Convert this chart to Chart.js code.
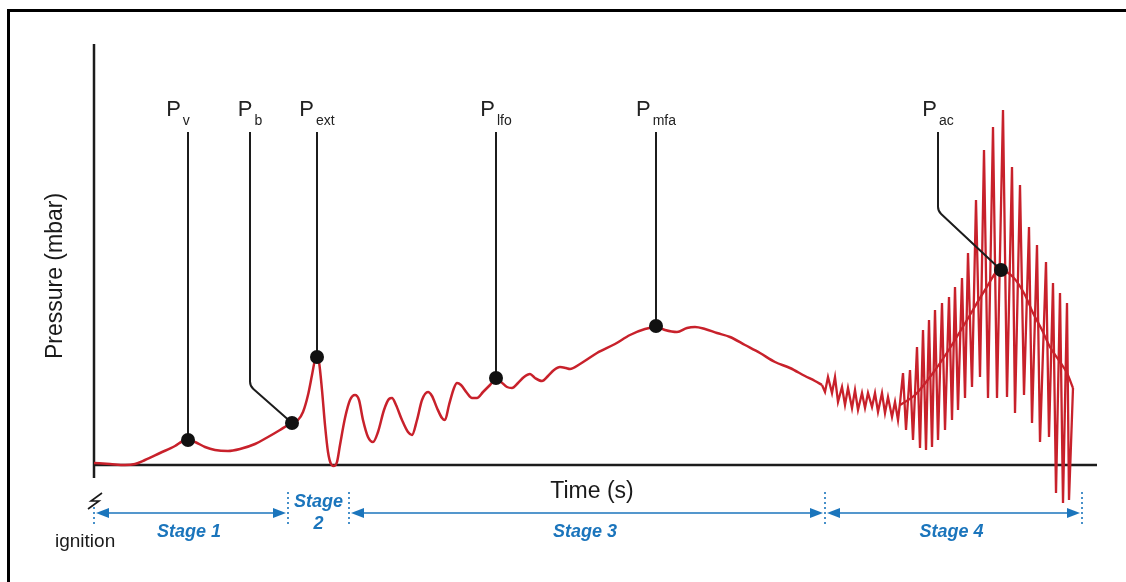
<!DOCTYPE html>
<html>
<head>
<meta charset="utf-8">
<title>Pressure (mbar) vs Time (s)</title>
<script src="https://cdn.jsdelivr.net/npm/chart.js@4.4.1/dist/chart.umd.min.js"></script>
<style>
  html, body { margin: 0; padding: 0; background: #fff; }
  #wrap { position: relative; width: 1126px; height: 582px; overflow: hidden; }
  #frame { position: absolute; left: 7px; top: 9px; width: 1300px; height: 800px;
           border-left: 3px solid #000; border-top: 3px solid #000; }
  #chart { position: absolute; left: 0; top: 0; }
</style>
</head>
<body>
<div id="wrap">
  <div id="frame"></div>
  <canvas id="chart" width="1126" height="582"></canvas>
</div>
<script>
// smooth part of the pressure trace (stages 1-3)
var smoothT = [0, 16, 31, 41, 51, 66, 81, 89, 94, 101, 111, 121, 134, 146, 161, 174, 186, 194, 198, 204,
  209, 214, 218, 221, 223, 225, 228, 231, 234, 237, 240, 243, 246, 251, 256, 261, 265, 269, 274, 279,
  284, 290, 295, 298, 302, 308, 314, 318, 323, 328, 334, 338, 343, 348, 351, 355, 360, 363, 367, 373,
  378, 383, 389, 396, 402, 407, 413, 418, 424, 430, 436, 441, 448, 454, 460, 466, 472, 476, 486, 503,
  521, 536, 551, 563, 571, 583, 593, 601, 611, 623, 636, 651, 666, 681, 696, 711, 721, 728];
var smoothP = [2, 1, 0, 1, 5, 12, 19, 24, 25, 23, 18, 15, 14, 16, 21, 28, 35, 40, 42, 45,
  53, 70, 90, 105, 108, 103, 75, 40, 13, 1, -1, 3, 20, 47, 65, 70, 65, 45, 28, 23,
  33, 55, 66, 67, 60, 45, 33, 30, 45, 65, 73, 69, 57, 47, 45, 60, 77, 82, 80, 72,
  67, 67, 73, 80, 86, 83, 78, 77, 82, 88, 91, 87, 84, 89, 95, 98, 97, 96, 101, 112,
  121, 130, 136, 138, 135, 133, 137, 138, 136, 132, 128, 120, 112, 103, 97, 89, 84, 80];

// oscillating part (end of stage 3 and stage 4)
var ringT = [728, 731, 734, 738, 741, 744, 748, 751, 754, 758, 761, 764, 768, 771, 774, 778, 781, 784, 788, 791,
  794, 798, 801, 804, 806, 809, 812, 816, 819, 823, 826, 829, 832, 835, 838, 841, 844, 848, 851, 855,
  858, 861, 864, 868, 871, 874, 878, 882, 886, 890, 894, 899, 903, 909, 913, 918, 921, 926, 930, 935,
  938, 943, 946, 952, 955, 959, 962, 966, 969, 973, 975, 979];
var ringP = [80, 73, 88, 72, 88, 63, 78, 60, 77, 57, 75, 55, 72, 57, 72, 58, 72, 53, 72, 52,
  68, 48, 63, 45, 62, 92, 35, 95, 25, 118, 17, 135, 15, 145, 18, 155, 25, 162, 35, 168,
  45, 178, 55, 187, 67, 212, 78, 265, 88, 315, 67, 338, 67, 355, 68, 298, 52, 280, 70, 238,
  42, 220, 23, 203, 28, 182, -28, 172, -38, 162, -35, 77];

// mean of the acoustic oscillation
var meanT = [806, 821, 839, 856, 873, 891, 906, 919, 931, 939, 948, 956, 966, 973, 979];
var meanP = [60, 70, 92, 117, 145, 175, 195, 188, 170, 152, 135, 118, 103, 92, 77];

// characteristic pressure points
var markerSub = ['v', 'b', 'ext', 'lfo', 'mfa', 'ac'];
var markerT = [94, 198, 223, 402, 562, 907];
var markerP = [25, 42, 108, 87, 139, 195];

// stage boundaries on the time axis
var stageNames = ['Stage 1', 'Stage 2', 'Stage 3', 'Stage 4'];
var stageBounds = [0, 194, 255, 731, 988];

function zip(xs, ys) {
  return xs.map(function(x, i) { return { x: x, y: ys[i] }; });
}

var RED = '#c8212b';
var BLUE = '#1b75bc';
var INK = '#1c1c1c';

// leader geometry: [dx of vertical line from marker, y of bend] (null = straight)
var leaderBend = [null, [-42, 378], null, null, null, [-63, 203]];
var labelShift = [-10, 0, 0, 0, 0, 0];

function arrowHead(ctx, x, y, dir) {
  ctx.beginPath();
  ctx.moveTo(x, y);
  ctx.lineTo(x - dir * 13, y - 5);
  ctx.lineTo(x - dir * 13, y + 5);
  ctx.closePath();
  ctx.fill();
}

var overlay = {
  id: 'overlay',
  beforeDatasetsDraw: function(chart) {
    var ctx = chart.ctx, xs = chart.scales.x, ys = chart.scales.y;
    var x0 = xs.getPixelForValue(0), y0 = ys.getPixelForValue(0);
    ctx.save();
    ctx.strokeStyle = INK;
    ctx.lineWidth = 2.5;
    ctx.beginPath();
    ctx.moveTo(x0, chart.chartArea.top);
    ctx.lineTo(x0, y0 + 13);
    ctx.moveTo(x0, y0);
    ctx.lineTo(chart.chartArea.right, y0);
    ctx.stroke();
    ctx.restore();
  },
  beforeDatasetDraw: function(chart, args) {
    if (args.index !== 0) return;
    // leader lines to the marker dots, drawn just under the dots
    var ctx = chart.ctx, xs = chart.scales.x, ys = chart.scales.y;
    ctx.save();
    ctx.strokeStyle = INK;
    ctx.lineWidth = 2;
    ctx.lineJoin = 'round';
    for (var i = 0; i < markerT.length; i++) {
      var mx = xs.getPixelForValue(markerT[i]), my = ys.getPixelForValue(markerP[i]);
      var b = leaderBend[i];
      ctx.beginPath();
      if (b) {
        var lx = mx + b[0];
        ctx.moveTo(lx, 132);
        ctx.arcTo(lx, b[1] + 8, mx, my, 10);
        ctx.lineTo(mx, my);
      } else {
        ctx.moveTo(mx, 132);
        ctx.lineTo(mx, my);
      }
      ctx.stroke();
    }
    ctx.restore();
  },
  afterDraw: function(chart) {
    var ctx = chart.ctx, xs = chart.scales.x;
    ctx.save();

    // marker labels P with subscript
    ctx.fillStyle = '#222';
    ctx.textBaseline = 'alphabetic';
    for (var i = 0; i < markerT.length; i++) {
      var b = leaderBend[i];
      var lx = xs.getPixelForValue(markerT[i]) + (b ? b[0] : 0) + labelShift[i];
      ctx.font = '22px "Liberation Sans", Arial, sans-serif';
      var wP = ctx.measureText('P').width;
      ctx.font = '14px "Liberation Sans", Arial, sans-serif';
      var wS = ctx.measureText(markerSub[i]).width;
      var left = lx - (wP + 2 + wS) / 2;
      ctx.font = '22px "Liberation Sans", Arial, sans-serif';
      ctx.textAlign = 'left';
      ctx.fillText('P', left, 116);
      ctx.font = '14px "Liberation Sans", Arial, sans-serif';
      ctx.fillText(markerSub[i], left + wP + 2, 125);
    }

    // axis titles
    ctx.fillStyle = '#1a1a1a';
    ctx.font = '23px "Liberation Sans", Arial, sans-serif';
    ctx.textAlign = 'center';
    ctx.fillText('Time (s)', 592, 498);
    ctx.save();
    ctx.translate(56, 276);
    ctx.rotate(-Math.PI / 2);
    ctx.textBaseline = 'middle';
    ctx.fillText('Pressure (mbar)', 0, 0);
    ctx.restore();

    // ignition mark
    ctx.strokeStyle = '#1a1a1a';
    ctx.lineWidth = 1.6;
    ctx.beginPath();
    ctx.moveTo(102, 493);
    ctx.lineTo(91, 501);
    ctx.lineTo(99, 501);
    ctx.lineTo(88, 509);
    ctx.stroke();
    ctx.font = '19px "Liberation Sans", Arial, sans-serif';
    ctx.textAlign = 'left';
    ctx.fillText('ignition', 55, 547);

    // stage separators and arrows
    var bx = stageBounds.map(function(t) { return xs.getPixelForValue(t); });
    var ya = 513;
    ctx.strokeStyle = BLUE;
    ctx.fillStyle = BLUE;
    ctx.lineWidth = 1.6;
    ctx.setLineDash([2, 3]);
    bx.forEach(function(x, k) {
      ctx.beginPath();
      ctx.moveTo(x, k === 0 ? 507 : 492);
      ctx.lineTo(x, 525);
      ctx.stroke();
    });
    ctx.setLineDash([]);
    ctx.lineWidth = 1.5;
    [[0, 1], [2, 3], [3, 4]].forEach(function(s) {
      var a = bx[s[0]] + 2, z = bx[s[1]] - 2;
      ctx.beginPath();
      ctx.moveTo(a + 4, ya);
      ctx.lineTo(z - 4, ya);
      ctx.stroke();
      arrowHead(ctx, a, ya, -1);
      arrowHead(ctx, z, ya, 1);
    });

    ctx.font = 'italic bold 18px "Liberation Sans", Arial, sans-serif';
    ctx.textAlign = 'center';
    [0, 2, 3].forEach(function(k) {
      ctx.fillText(stageNames[k], (bx[k] + bx[k + 1]) / 2 - 2, 537);
    });
    var parts = stageNames[1].split(' ');
    ctx.fillText(parts[0], (bx[1] + bx[2]) / 2, 507);
    ctx.fillText(parts[1], (bx[1] + bx[2]) / 2, 529);

    ctx.restore();
  }
};

var ctx = document.getElementById('chart').getContext('2d');
var chart = new Chart(ctx, {
  type: 'line',
  data: {
    datasets: [
      {
        data: zip(markerT, markerP),
        showLine: false,
        pointRadius: 7,
        pointBackgroundColor: '#111',
        pointBorderWidth: 0
      },
      {
        data: zip(meanT, meanP),
        borderColor: RED,
        borderWidth: 2.3,
        pointRadius: 0,
        cubicInterpolationMode: 'monotone',
        clip: false
      },
      {
        data: zip(ringT, ringP),
        borderColor: RED,
        borderWidth: 2.3,
        pointRadius: 0,
        tension: 0,
        clip: false
      },
      {
        data: zip(smoothT, smoothP),
        borderColor: RED,
        borderWidth: 2.5,
        pointRadius: 0,
        cubicInterpolationMode: 'monotone',
        clip: false
      }
    ]
  },
  options: {
    responsive: false,
    animation: false,
    devicePixelRatio: 1,
    layout: { padding: { left: 94, right: 29, top: 44, bottom: 117 } },
    scales: {
      x: { type: 'linear', min: 0, max: 1003, display: false },
      y: { type: 'linear', min: 0, max: 421, display: false }
    },
    plugins: {
      legend: { display: false },
      tooltip: { enabled: false }
    }
  },
  plugins: [overlay]
});
</script>
</body>
</html>
